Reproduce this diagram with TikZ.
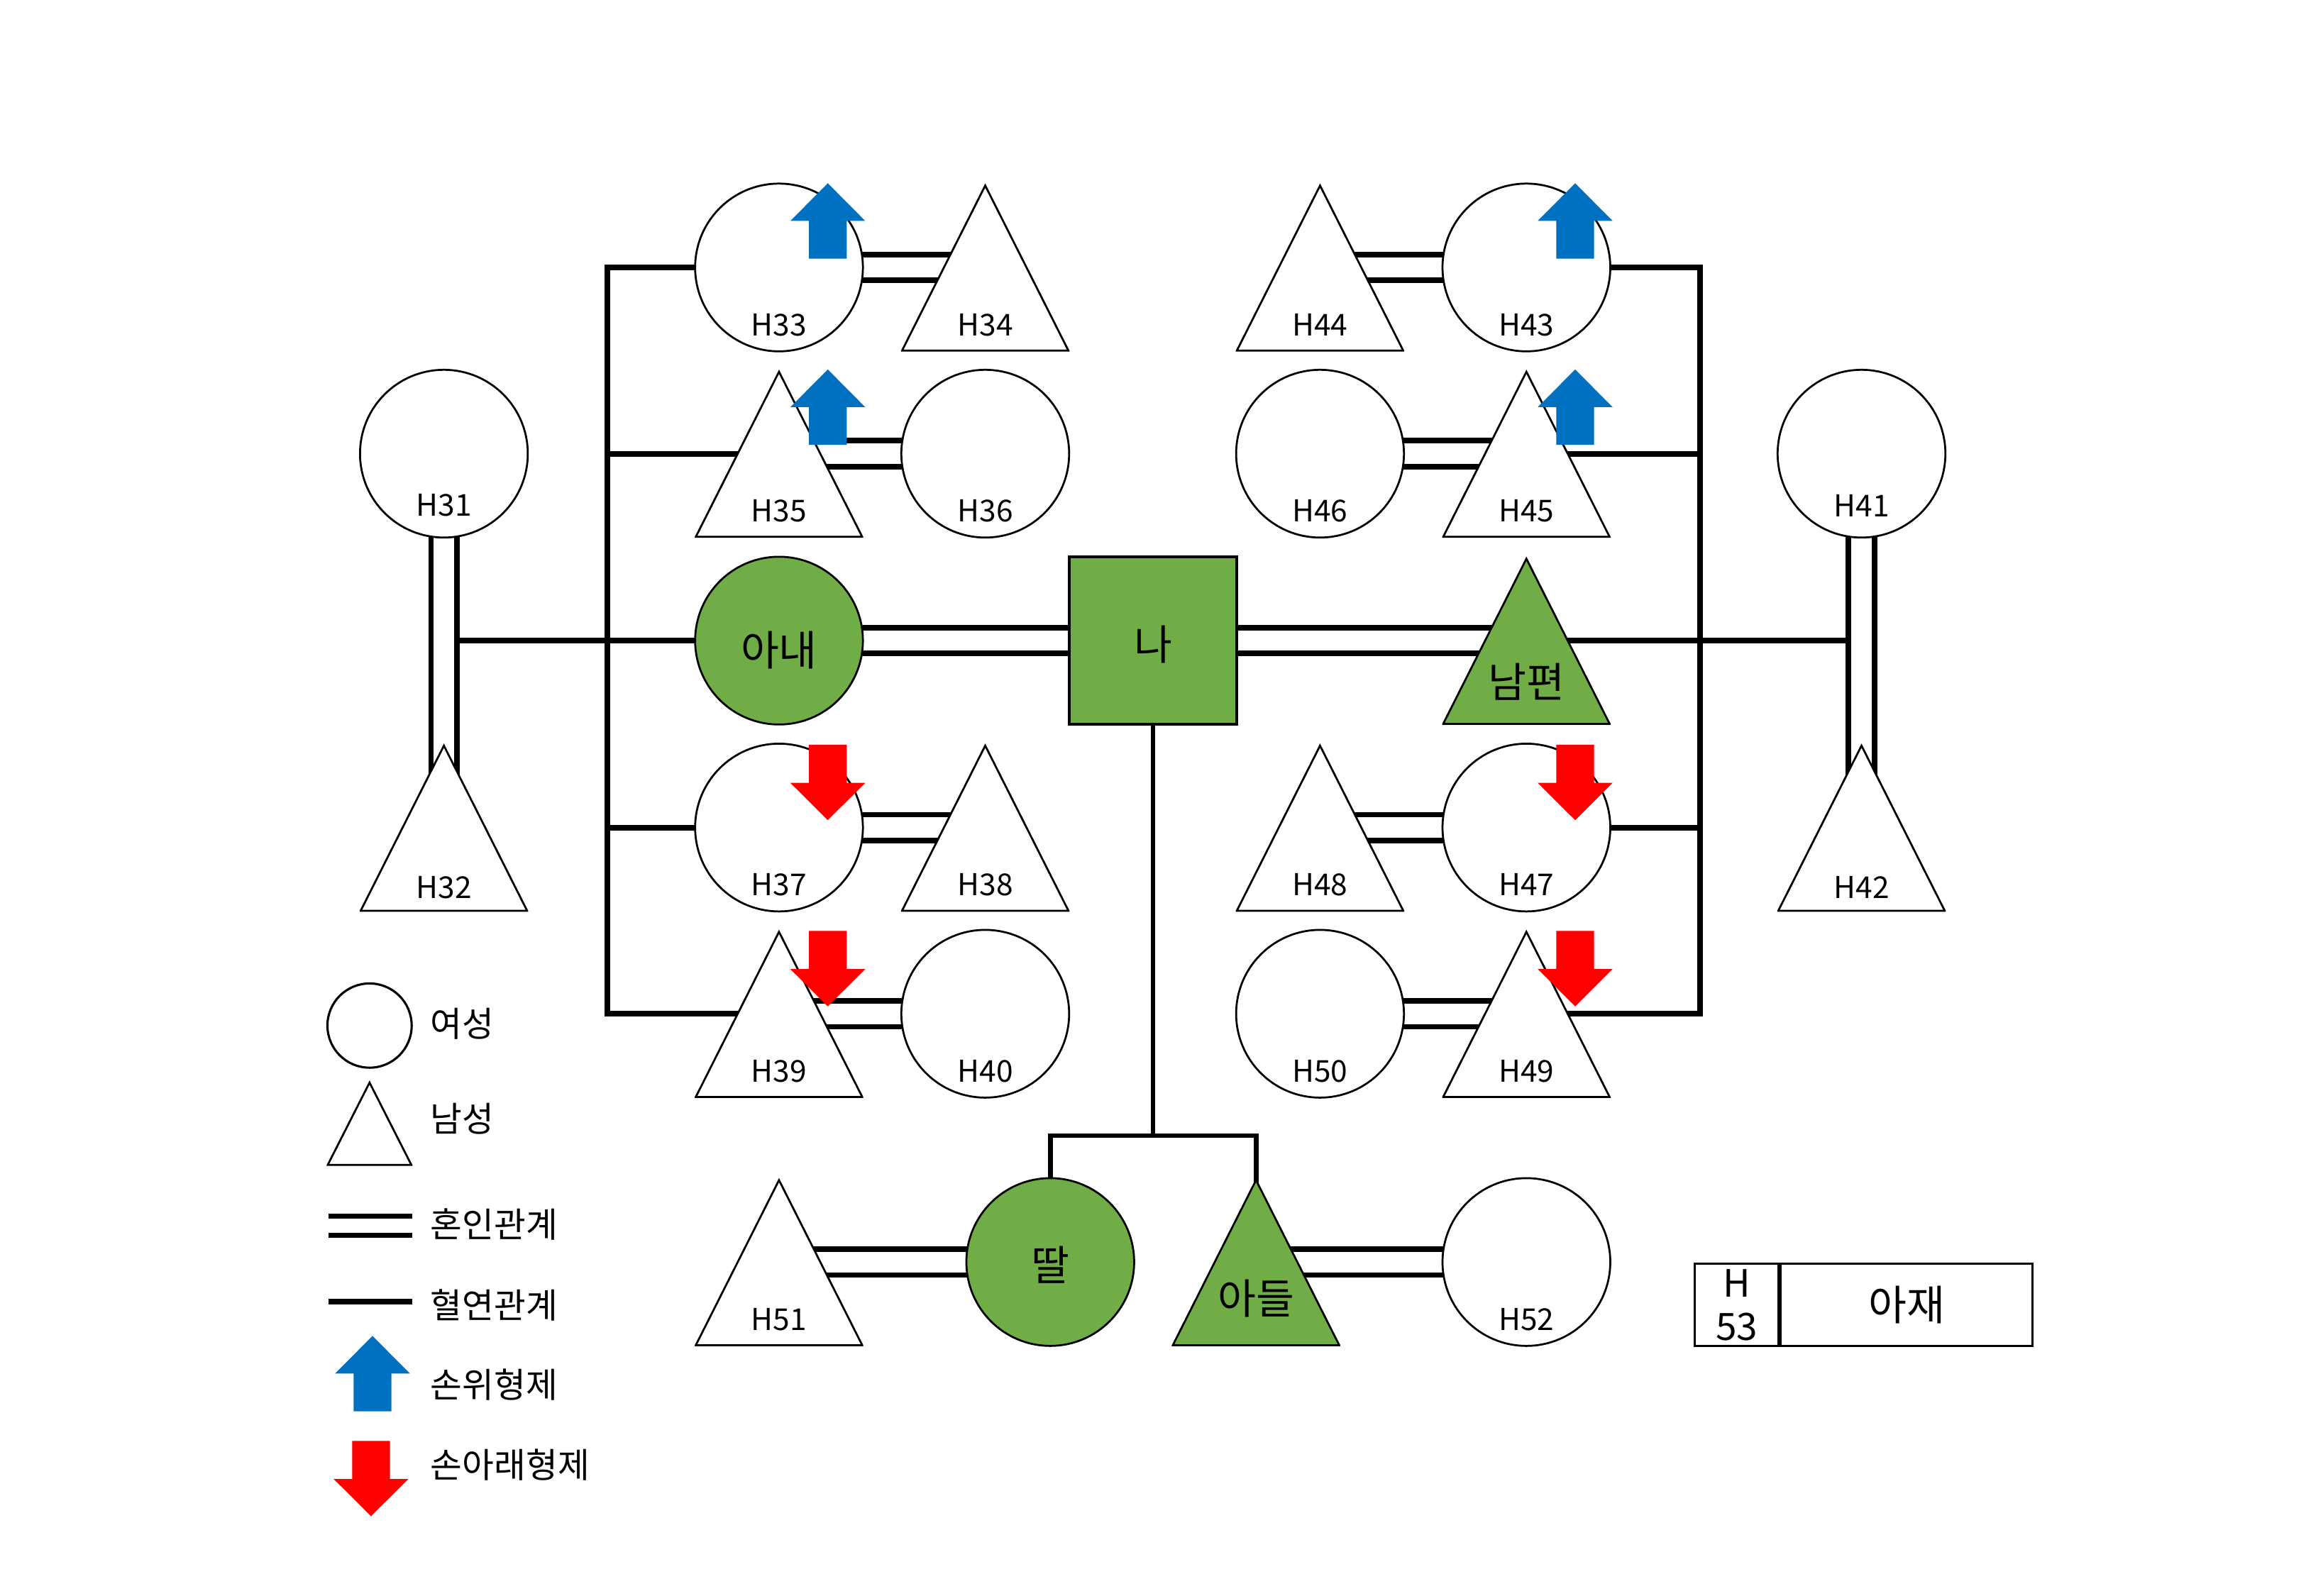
\documentclass[tikz,border=0pt]{standalone}
\usepackage{fontspec}
\setmainfont{Noto Sans CJK KR}
\pgfdeclarelayer{background}
\pgfsetlayers{background,main}
\definecolor{kingreen}{HTML}{70AD47}
\definecolor{upblue}{HTML}{0070C0}
\definecolor{downred}{HTML}{FF0000}
\tikzset{
  woman/.style={circle, draw, line width=0.75pt, fill=#1, minimum size=22.7mm, inner sep=0pt},
  woman/.default=white,
  man/.style={rectangle, inner sep=0pt, minimum width=22.8mm, minimum height=22.8mm,
    path picture={\draw[line width=0.75pt, fill=#1]
      ([shift={(0.4pt,0.4pt)}]path picture bounding box.south west) --
      ([shift={(-0.4pt,0.4pt)}]path picture bounding box.south east) --
      ([yshift=-0.9pt]path picture bounding box.north) -- cycle;}},
  man/.default=white,
  self/.style={draw, line width=1.1pt, fill=kingreen, minimum width=22.7mm, minimum height=22.6mm, inner sep=0pt},
  hfont/.style={font=\fontsize{11.6}{14}\selectfont},
  hname/.style={label={[hfont, yshift=-7.75mm]center:#1}},
  kname/.style 2 args={label={[font=\fontsize{16}{19}\selectfont, yshift=-#2]center:#1}},
  marry/.style={double=white, double distance=2.76mm, line width=0.74mm},
  blood/.style={line width=0.78mm},
  kin/.style={line width=0.66mm},
  cell/.style={draw, line width=0.85pt, minimum height=11.2mm, inner sep=0pt},
  keytext/.style={anchor=west, inner sep=0pt, font=\fontsize{13.3}{16}\selectfont},
  upmark/.pic={\fill[upblue] (0,0) -- (25.3,25.5) -- (12.8,25.5) -- (12.8,51) -- (-12.8,51) -- (-12.8,25.5) -- (-25.3,25.5) -- cycle;},
  downmark/.pic={\fill[downred] (-12.8,0) -- (12.8,0) -- (12.8,25.8) -- (25.3,25.8) -- (0,51) -- (-25.3,25.8) -- (-12.8,25.8) -- cycle;},
}
\begin{document}
\begin{tikzpicture}[x=0.2mm, y=-0.2mm]
\useasboundingbox (0,0) rectangle (1560,1080);

\node[woman, label={[hfont, yshift=-7mm]center:H31}] (h31) at (300.3,307) {};
\node[man, label={[hfont, yshift=-8.1mm]center:H32}] (h32) at (300.3,560) {};
\node[woman, label={[hfont, yshift=-7mm]center:H41}] (h41) at (1259.3,307) {};
\node[man, label={[hfont, yshift=-8.1mm]center:H42}] (h42) at (1259.3,560) {};

\node[woman, hname=H33] (h33) at (527,181) {};
\node[man, hname=H34] (h34) at (666.5,181) {};
\node[man, hname=H35] (h35) at (527,307) {};
\node[woman, hname=H36] (h36) at (666.5,307) {};
\node[woman=kingreen, kname={아내}{1.3mm}] (wife) at (527,433.5) {};
\node[woman, hname=H37] (h37) at (527,560) {};
\node[man, hname=H38] (h38) at (666.5,560) {};
\node[man, hname=H39] (h39) at (527,686) {};
\node[woman, hname=H40] (h40) at (666.5,686) {};

\node[self, kname={나}{0.5mm}] (self) at (780,433.5) {};

\node[man, hname=H44] (h44) at (893,181) {};
\node[woman, hname=H43] (h43) at (1032.6,181) {};
\node[woman, hname=H46] (h46) at (893,307) {};
\node[man, hname=H45] (h45) at (1032.6,307) {};
\node[man=kingreen, kname={남편}{5.6mm}] (husband) at (1032.6,433.5) {};
\node[man, hname=H48] (h48) at (893,560) {};
\node[woman, hname=H47] (h47) at (1032.6,560) {};
\node[woman, hname=H50] (h50) at (893,686) {};
\node[man, hname=H49] (h49) at (1032.6,686) {};

\node[man, hname=H51] (h51) at (527,854) {};
\node[woman=kingreen, kname={딸}{0.4mm}] (daughter) at (710.5,854) {};
\node[man=kingreen, kname={아들}{4.95mm}] (son) at (849.7,854) {};
\node[woman, hname=H52] (h52) at (1032.6,854) {};

\coordinate (join31) at (310,433.5);
\coordinate (join41) at (1250.5,433.5);
\coordinate (brLtop) at (411,181);
\coordinate (brLbot) at (411,686);
\coordinate (brRtop) at (1150,181);
\coordinate (brRbot) at (1150,686);
\coordinate (kids) at (780,768.5);

\begin{pgfonlayer}{background}
\draw[marry] (h31.center) -- (h32.center);
\draw[marry] (h41.center) -- (h42.center);
\draw[marry] (h33.center) -- (h34.center);
\draw[marry] (h35.center) -- (h36.center);
\draw[marry] (wife.center) -- (self.center);
\draw[marry] (self.center) -- (husband.center);
\draw[marry] (h37.center) -- (h38.center);
\draw[marry] (h39.center) -- (h40.center);
\draw[marry] (h44.center) -- (h43.center);
\draw[marry] (h46.center) -- (h45.center);
\draw[marry] (h48.center) -- (h47.center);
\draw[marry] (h50.center) -- (h49.center);
\draw[marry] (h51.center) -- (daughter.center);
\draw[marry] (son.center) -- (h52.center);

\draw[blood] (h33.center) -- (brLtop) -- (brLbot) -- (h39.center);
\draw[blood] (brLtop |- h35.center) -- (h35.center);
\draw[blood] (brLtop |- h37.center) -- (h37.center);
\draw[blood] (join31) -- (wife.center);

\draw[blood] (h43.center) -- (brRtop) -- (brRbot) -- (h49.center);
\draw[blood] (brRtop |- h45.center) -- (h45.center);
\draw[blood] (brRtop |- h47.center) -- (h47.center);
\draw[blood] (husband.center) -- (join41);

\draw[kin] (self.center) -- (kids);
\draw[kin] (daughter.center) -- (daughter.center |- kids) -- (son.center |- kids) -- (son.center);
\end{pgfonlayer}

\pic at ([shift={(33,-57)}]h33.center) {upmark};
\pic at ([shift={(33,-57)}]h35.center) {upmark};
\pic at ([shift={(33,-57)}]h43.center) {upmark};
\pic at ([shift={(33,-57)}]h45.center) {upmark};
\pic at ([shift={(33,-56)}]h37.center) {downmark};
\pic at ([shift={(33,-56)}]h39.center) {downmark};
\pic at ([shift={(33,-56)}]h47.center) {downmark};
\pic at ([shift={(33,-56)}]h49.center) {downmark};

\node[cell, minimum width=11.3mm, anchor=north west, align=center, font=\fontsize{14.5}{16.7}\selectfont] (h53) at (1145.8,854.2) {H\\53};
\node[cell, minimum width=34.1mm, anchor=west, font=\fontsize{16}{19}\selectfont] (ajae) at (h53.east) {아재};

\node[woman, line width=0.85pt, minimum size=11.4mm] (keyf) at (250,694) {};
\node[man, minimum width=11.6mm, minimum height=11.6mm] (keym) at (250,760) {};
\draw[marry, double distance=1.88mm, line width=0.72mm] (222,829.5) -- (279,829.5);
\draw[blood] (222,881) -- (279,881);
\pic at (252,904) {upmark};
\pic at (251,975) {downmark};
\node[keytext] (k1) at (291,693) {여성};
\node[keytext] (k2) at (291,757) {남성};
\node[keytext] (k3) at (291,828.5) {혼인관계};
\node[keytext] (k4) at (291,883) {혈연관계};
\node[keytext] (k5) at (291,937) {손위형제};
\node[keytext] (k6) at (291,991) {손아래형제};
\end{tikzpicture}
\end{document}
